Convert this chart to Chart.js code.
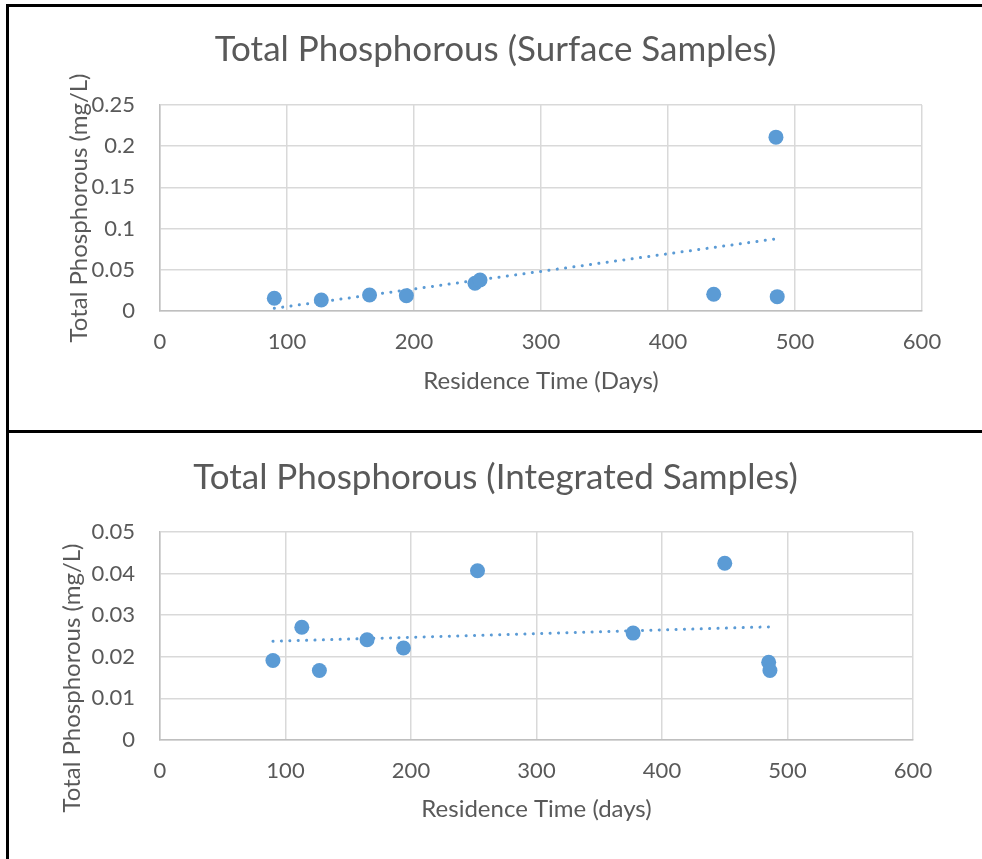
<!DOCTYPE html>
<html>
<head>
<meta charset="utf-8">
<script src="https://cdn.jsdelivr.net/npm/chart.js@4"></script>
<style>
    body { margin: 0; background: #ffffff; width: 982px; height: 859px; overflow: hidden; position: relative; }
    .line { position: absolute; background: #000000; }
    .box { position: absolute; left: 9px; width: 973px; }
</style>
</head>
<body>
<div class="line" style="left:6px; top:4px; width:3px; height:855px;"></div>
<div class="line" style="left:6px; top:4px; width:976px; height:3px;"></div>
<div class="line" style="left:6px; top:430px; width:976px; height:3px;"></div>
<div class="box" style="top:7px; height:423px;"><canvas id="surface" width="973" height="423"></canvas></div>
<div class="box" style="top:433px; height:426px;"><canvas id="integrated" width="973" height="426"></canvas></div>
<script>
// residence time (days) vs total phosphorous (mg/L)
const surfaceDays = [90, 127, 165, 194, 248, 252, 436, 485, 486]
const surfaceTP = [0.0154, 0.0133, 0.0194, 0.0186, 0.0336, 0.0376, 0.0203, 0.211, 0.0174]

const integratedDays = [90, 113, 127, 165, 194, 253, 377, 450, 485, 486]
const integratedTP = [0.0191, 0.0271, 0.0167, 0.0241, 0.0221, 0.0407, 0.0257, 0.0425, 0.0187, 0.0167]

const xTicks = [0, 100, 200, 300, 400, 500, 600]
const surfaceYTicks = [0, 0.05, 0.1, 0.15, 0.2, 0.25]
const integratedYTicks = [0, 0.01, 0.02, 0.03, 0.04, 0.05]

const blue = '#5b9bd5'
const textColor = '#595959'
const gridColor = '#d9d9d9'
const fontFamily = 'Lato, "Open Sans", sans-serif'

// least squares fit, same as the spreadsheet's linear trendline
function trend(xs, ys) {
    let n = xs.length
    let mx = xs.reduce((a, b) => a + b, 0) / n
    let my = ys.reduce((a, b) => a + b, 0) / n
    let sxy = 0, sxx = 0
    for (let i = 0; i < n; i++) {
        sxy += (xs[i] - mx) * (ys[i] - my)
        sxx += (xs[i] - mx) * (xs[i] - mx)
    }
    let slope = sxy / sxx
    let x0 = Math.min(...xs), x1 = Math.max(...xs)
    return [{x: x0, y: my + slope * (x0 - mx)}, {x: x1, y: my + slope * (x1 - mx)}]
}

// rotated y title, placed freely (it overlaps the tick labels like in the original)
const yTitlePlugin = {
    id: 'yTitle',
    afterDraw(chart, args, opts) {
        let ctx = chart.ctx
        ctx.save()
        ctx.translate(opts.x, opts.y)
        ctx.rotate(-Math.PI / 2)
        ctx.font = opts.size + 'px ' + fontFamily
        ctx.fillStyle = textColor
        ctx.textAlign = 'center'
        ctx.textBaseline = 'middle'
        ctx.fillText(opts.text, 0, 0)
        ctx.restore()
    }
}

function plot_scatter(ctx, xs, ys, yTicks, layout) {
    let points = xs.map((x, i) => ({x: x, y: ys[i]}))
    new Chart(ctx, {
        type: 'scatter',
        data: {
            datasets: [{
                data: points,
                pointRadius: 7.5,
                pointHoverRadius: 7.5,
                backgroundColor: blue,
                borderWidth: 0
            }, {
                type: 'line',
                data: trend(xs, ys),
                showLine: true,
                pointRadius: 0,
                borderColor: blue,
                borderWidth: 3,
                borderCapStyle: 'round',
                borderDash: [0.1, 8.3],
                fill: false
            }]
        },
        options: {
            responsive: false,
            animation: false,
            layout: {
                padding: 0
            },
            scales: {
                x: {
                    type: 'linear',
                    min: 0,
                    max: 600,
                    afterBuildTicks: axis => { axis.ticks = xTicks.map(v => ({value: v})) },
                    afterFit: scale => { scale.height = layout.xHeight },
                    grid: {color: gridColor, lineWidth: 1.5, drawTicks: false},
                    border: {color: '#bfbfbf', width: 1.5},
                    ticks: {
                        color: textColor,
                        padding: 18,
                        maxRotation: 0,
                        font: {family: fontFamily, size: 22},
                        callback: v => String(v)
                    },
                    title: {
                        display: true,
                        text: layout.xTitle,
                        color: textColor,
                        font: {family: fontFamily, size: 24},
                        padding: {top: 0, bottom: layout.xTitlePad}
                    }
                },
                y: {
                    type: 'linear',
                    min: yTicks[0],
                    max: yTicks[yTicks.length - 1],
                    afterBuildTicks: axis => { axis.ticks = yTicks.map(v => ({value: v})) },
                    afterFit: scale => { scale.width = 151 },
                    grid: {color: gridColor, lineWidth: 1.5, drawTicks: false},
                    border: {color: '#bfbfbf', width: 1.5},
                    ticks: {
                        color: textColor,
                        padding: 25,
                        font: {family: fontFamily, size: 22},
                        callback: v => String(v)
                    }
                },
                // empty right margin, so the title stays centred on the whole canvas
                margin: {
                    type: 'linear',
                    position: 'right',
                    afterFit: scale => { scale.width = layout.right },
                    grid: {display: false},
                    border: {display: false},
                    ticks: {display: false}
                }
            },
            plugins: {
                legend: {display: false},
                tooltip: {enabled: false},
                title: {
                    display: true,
                    text: layout.title,
                    color: textColor,
                    font: {family: fontFamily, size: 35, weight: 'normal'},
                    padding: {top: layout.titleTop, bottom: layout.titleBottom}
                },
                yTitle: {text: 'Total Phosphorous (mg/L)', x: layout.yTitleX, y: layout.yTitleY, size: 24}
            }
        },
        plugins: [yTitlePlugin]
    })
}

plot_scatter(document.getElementById('surface'), surfaceDays, surfaceTP, surfaceYTicks, {
    title: 'Total Phosphorous (Surface Samples)',
    xTitle: 'Residence Time (Days)',
    right: 60, xHeight: 119, xTitlePad: 34,
    titleTop: 22, titleBottom: 34,
    yTitleX: 70, yTitleY: 201
})

plot_scatter(document.getElementById('integrated'), integratedDays, integratedTP, integratedYTicks, {
    title: 'Total Phosphorous (Integrated Samples)',
    xTitle: 'Residence Time (days)',
    right: 69, xHeight: 119, xTitlePad: 35,
    titleTop: 24, titleBottom: 33,
    yTitleX: 63, yTitleY: 245
})
</script>
</body>
</html>
